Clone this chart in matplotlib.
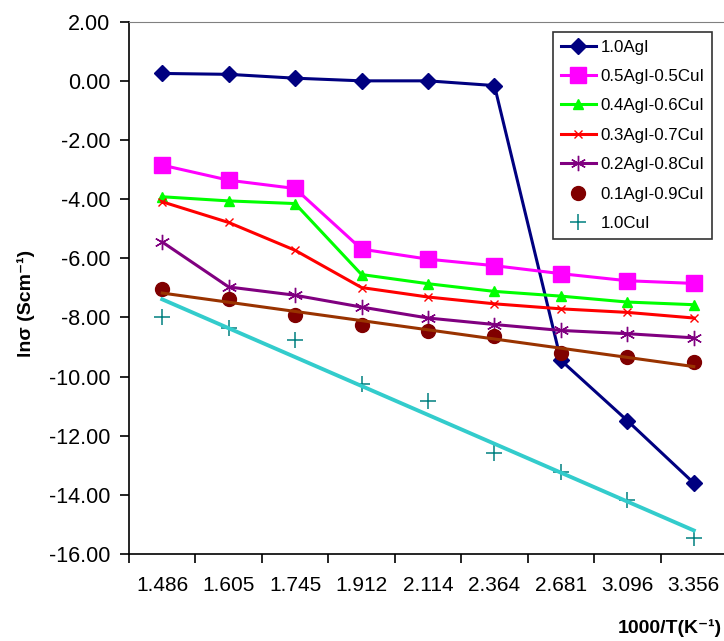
import numpy as np
import matplotlib
matplotlib.use("Agg")
import matplotlib.pyplot as plt
from matplotlib.ticker import FixedLocator, FormatStrFormatter

plt.rcParams['font.family'] = ['Liberation Sans', 'DejaVu Sans']

# data
temps = ['1.486', '1.605', '1.745', '1.912', '2.114', '2.364', '2.681', '3.096', '3.356']
agi_10 = [0.25, 0.22, 0.09, 0.0, 0.0, -0.16, -9.45, -11.49, -13.6]
agi_05 = [-2.85, -3.36, -3.64, -5.69, -6.03, -6.25, -6.52, -6.76, -6.85]
agi_04 = [-3.92, -4.06, -4.15, -6.55, -6.86, -7.12, -7.28, -7.48, -7.57]
agi_03 = [-4.09, -4.79, -5.73, -6.99, -7.31, -7.54, -7.71, -7.83, -8.02]
agi_02 = [-5.45, -6.97, -7.25, -7.65, -8.02, -8.24, -8.44, -8.55, -8.69]
agi_01 = [-7.03, -7.39, -7.93, -8.27, -8.47, -8.64, -9.20, -9.33, -9.51]
cui_10 = [-7.99, -8.36, -8.78, -10.25, -10.81, -12.59, -13.24, -14.17, -15.47]

x = np.arange(len(temps))

fig = plt.figure(figsize=(7.24, 6.41), dpi=100)
ax = fig.add_axes([129 / 724, 1 - 554 / 641, 598 / 724, (554 - 21.7) / 641])

# connected series
ax.plot(x, agi_10, color='#000080', lw=2.2, marker='D', ms=8, label='1.0AgI')
ax.plot(x, agi_05, color='#FF00FF', lw=2.2, marker='s', ms=11, label='0.5AgI-0.5CuI')
ax.plot(x, agi_04, color='#00FF00', lw=2.2, marker='^', ms=7, label='0.4AgI-0.6CuI')
ax.plot(x, agi_03, color='#FF0000', lw=2.2, marker='x', ms=6, mew=1, label='0.3AgI-0.7CuI')
ax.plot(x, agi_02, color='#800080', lw=2.2, marker=(6, 2, 0), ms=11, mew=1, label='0.2AgI-0.8CuI')

# marker-only series with linear trendlines
ax.plot(x, agi_01, ls='none', color='#800000', marker='o', ms=10, label='0.1AgI-0.9CuI')
k, b = np.polyfit(x, agi_01, 1)
ax.plot(x, k * x + b, color='#993300', lw=2.2)

ax.plot(x, cui_10, ls='none', color='#008080', marker='+', ms=11, mew=1.1, label='1.0CuI')
k, b = np.polyfit(x, cui_10, 1)
ax.plot(x, k * x + b, color='#33CCCC', lw=2.8)

ax.set_xlim(-0.5, len(temps) - 0.5)
ax.set_ylim(-16, 2)
ax.set_yticks(np.arange(-16, 2.1, 2))
ax.yaxis.set_major_formatter(FormatStrFormatter('%.2f'))
ax.set_xticks(x)
ax.set_xticklabels(temps)
ax.xaxis.set_minor_locator(FixedLocator(np.arange(-0.5, len(temps), 1)))

ax.tick_params(axis='y', direction='out', length=6.5, width=1.2, pad=7, labelsize=15.5)
ax.tick_params(axis='x', which='major', length=0, pad=16, labelsize=15)
ax.tick_params(axis='x', which='minor', direction='out', length=6.5, width=1.2)

ax.spines['right'].set_visible(False)
ax.spines['top'].set_color('#808080')
ax.spines['left'].set_linewidth(1.2)
ax.spines['bottom'].set_linewidth(1.2)

fig.text(26 / 724, 1 - 303 / 641, 'ln\u03c3 (Scm\u207b\u00b9)', rotation=90,
         ha='center', va='center', fontsize=14, fontweight='bold')
fig.text(722 / 724, 1 - 628 / 641, '1000/T(K\u207b\u00b9)', ha='right', va='center',
         fontsize=14, fontweight='bold')

leg = ax.legend(loc='upper left', bbox_to_anchor=(553 / 724, 1 - 32 / 641),
                bbox_transform=fig.transFigure, fontsize=12.2, frameon=True,
                fancybox=False, edgecolor='black', handlelength=2.1,
                labelspacing=0.85, borderpad=0.45, handletextpad=0.25,
                borderaxespad=0)
leg.get_frame().set_linewidth(1.2)

fig.savefig('out.png', dpi=100)
